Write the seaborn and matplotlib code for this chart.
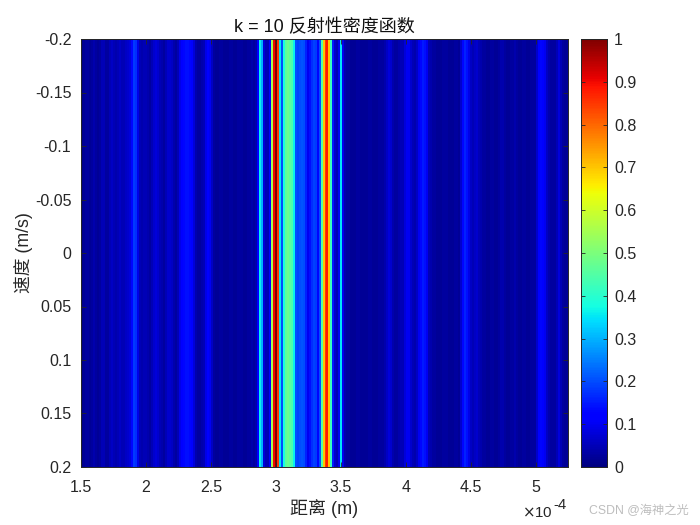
import numpy as np
import matplotlib
matplotlib.use("Agg")
import matplotlib.pyplot as plt
import seaborn as sns

# Reflectivity magnitude along range, one value per 0.0154e-4 m column
profile_a = [0.01,0.02,0.03,0.03,0.02,0.03,0.04,0.03,0.02,0.03,0.05,0.05,0.03,0.03,0.05,0.06,0.05,0.04,0.05,0.06,
             0.05,0.05,0.06,0.07,0.08,0.13,0.18,0.17,0.09,0.05,0.04,0.05,0.05,0.04,0.03,0.05,0.07,0.08,0.07,0.05,
             0.04,0.03,0.05,0.07,0.07,0.06,0.04,0.03,0.05,0.09,0.12,0.13,0.14,0.14,0.13,0.12,0.08,0.04,0.03,0.03,
             0.04,0.05,0.09,0.12,0.10,0.06,0.03,0.02,0.02,0.03,0.03,0.02,0.02,0.02,0.03,0.03,0.02,0.02,0.03,0.03,
             0.03,0.02,0.02,0.03,0.03,0.04,0.03,0.04,0.12]
profile_b = [0.36,0.30,0.08,0.05,0.05,0.12,0.55,0.90,1.00,0.85,0.35,0.20,0.38,0.46,0.48,0.46,0.44,0.36,
             0.20,0.19,0.20,0.21,0.20,0.16,0.10,0.14,0.17,0.19,0.18,0.13,0.20,0.45,0.70,0.85,0.88,0.70,0.42,
             0.15,0.07,0.05,0.10,0.35,0.10]
profile_c = [0.04,0.03,0.03,0.02,0.02,0.02,0.03,0.03,0.02,0.02,0.02,0.02,0.03,0.03,0.02,0.02,0.02,0.03,0.03,0.03,
             0.04,0.06,0.08,0.07,0.04,0.03,0.03,0.04,0.05,0.05,0.08,0.10,0.10,0.07,0.05,0.04,0.06,0.10,0.13,0.15,
             0.14,0.10,0.05,0.04,0.03,0.03,0.02,0.02,0.02,0.03,0.03,0.03,0.02,0.02,0.02,0.03,0.03,0.02,0.07,0.13,
             0.16,0.14,0.09,0.06,0.05,0.06,0.07,0.05,0.04,0.03,0.03,0.02,0.02,0.03,0.03,0.02,0.02,0.03,0.04,0.04,
             0.03,0.02,0.02,0.03,0.03,0.04,0.03,0.02,0.02,0.03,0.03,0.02,0.02,0.03,0.03,0.03,0.07,0.11,0.13,0.12,
             0.10,0.06,0.04,0.03,0.03,0.03,0.05,0.08,0.05,0.03,0.02,0.02]
velocity_rows = 8
x_ticks = [1.5, 2, 2.5, 3, 3.5, 4, 4.5, 5]
x_range = [1.5, 5.25]
y_ticks = [-0.2, -0.15, -0.1, -0.05, 0, 0.05, 0.1, 0.15, 0.2]
y_labels = ["-0.2", "-0.15", "-0.1", "-0.05", "0", "0.05", "0.1", "0.15", "0.2"]
c_ticks = [0, 0.1, 0.2, 0.3, 0.4, 0.5, 0.6, 0.7, 0.8, 0.9, 1]
c_labels = ["0", "0.1", "0.2", "0.3", "0.4", "0.5", "0.6", "0.7", "0.8", "0.9", "1"]

plt.rcParams['font.family'] = ['Liberation Sans', 'Noto Sans CJK SC', 'DejaVu Sans']
ink = '#262626'

profile = np.array(profile_a + profile_b + profile_c)
matrix = np.tile(profile, (velocity_rows, 1))

W, H = 700, 525
fig = plt.figure(figsize=(7, 5.25), dpi=100)
ax = fig.add_axes([81/W, 1-467/H, 487/W, 428/H])
cax = fig.add_axes([581/W, 1-467/H, 26/W, 428/H])

sns.heatmap(matrix, ax=ax, cmap='jet', vmin=0, vmax=1, cbar_ax=cax,
            xticklabels=False, yticklabels=False, rasterized=True)

n = len(profile)
ax.set_xticks([(t - x_range[0]) / (x_range[1] - x_range[0]) * n for t in x_ticks])
ax.set_xticklabels([f"{t:g}" for t in x_ticks], fontsize=11.5, color=ink, rotation=0)
ax.set_yticks([(v + 0.2) / 0.4 * velocity_rows for v in y_ticks])
ax.set_yticklabels(y_labels, fontsize=11.5, color=ink, rotation=0)
ax.tick_params(axis='both', direction='in', length=3.5, width=0.6, color=ink,
               top=True, right=True, bottom=True, left=True)
ax.tick_params(axis='x', pad=9)
ax.tick_params(axis='y', pad=7)
for s in ax.spines.values():
    s.set_visible(True)
    s.set_linewidth(0.7)
    s.set_color(ink)
ax.set_title("k = 10 反射性密度函数", fontsize=13, color='#111111', pad=5)
ax.set_xlabel("距离 (m)", fontsize=13, color=ink, labelpad=3)
ax.set_ylabel("速度 (m/s)", fontsize=12.8, color=ink, labelpad=1)

cax.set_yticks(c_ticks)
cax.set_yticklabels(c_labels, fontsize=11.5, color=ink)
cax.tick_params(axis='y', direction='in', length=3, width=0.6, color=ink, pad=5, right=True, left=True)
for s in cax.spines.values():
    s.set_visible(True)
    s.set_linewidth(0.7)
    s.set_color(ink)

fig.text(522/W, 1-513/H, r"$\times$10", fontsize=10.8, color=ink, va='center', ha='left')
fig.text(553/W, 1-505/H, "-4", fontsize=10.8, color=ink, va='center', ha='left')
fig.text(589/W, 1-511/H, "CSDN @海神之光", fontsize=8.8, color='#bdbdbd', va='center', ha='left')

fig.savefig("out.png", dpi=100)
